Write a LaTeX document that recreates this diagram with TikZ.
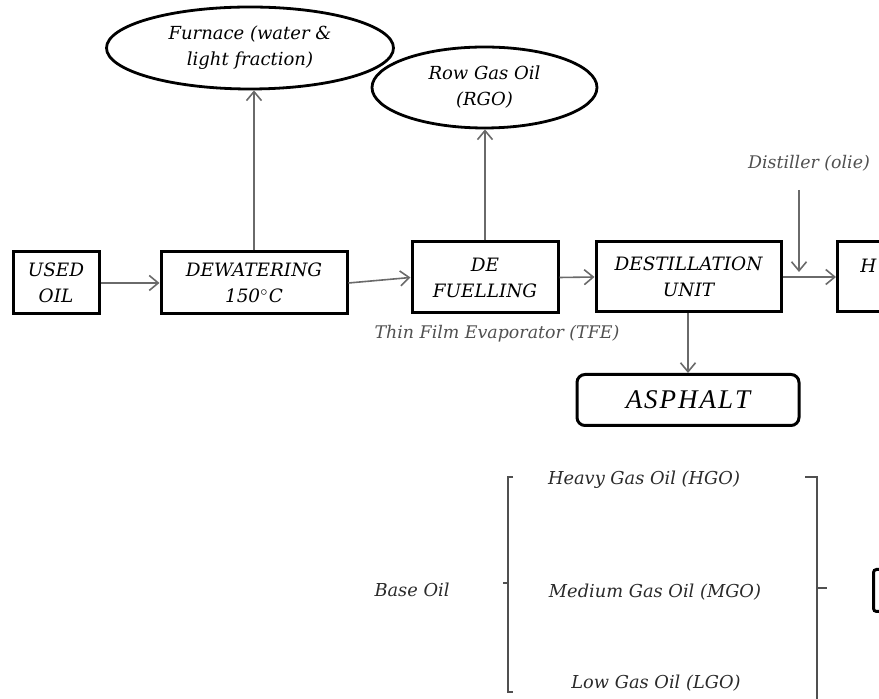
\documentclass[tikz,border=0pt]{standalone}
\usepackage{fontspec}
\setmainfont{DejaVu Serif}
\newfontfamily\timesit{Liberation Serif}
\usetikzlibrary{arrows.meta,shapes.geometric}
\definecolor{arrgray}{HTML}{6A6A6A}
\definecolor{txtgray}{HTML}{505050}
\definecolor{darktxt}{HTML}{2A2A2A}
\tikzset{
  procbox/.style={draw=black, line width=1.5pt, rectangle, align=center, inner sep=0pt,
    font=\fontsize{9.2}{13}\selectfont\itshape},
  ovalbox/.style={draw=black, line width=1.4pt, ellipse, align=center, inner sep=0pt,
    font=\fontsize{9}{13}\selectfont\itshape},
  arr/.style={draw=arrgray, line width=0.8pt, -{Straight Barb[length=4.5pt,width=7.5pt]}},
  graytxt/.style={text=txtgray, font=\fontsize{8.7}{11}\selectfont\itshape, inner sep=0pt},
  oiltxt/.style={text=darktxt, font=\fontsize{8.9}{11}\selectfont\itshape, inner sep=0pt},
  brk/.style={draw=txtgray, line width=0.6pt}
}
\begin{document}
\begin{tikzpicture}[x=0.5pt,y=-0.5pt]
\useasboundingbox (0,0) rectangle (879,699);
\clip (0,0) rectangle (879,699);
% process boxes
\node[procbox, minimum width=43pt, minimum height=31pt] (used) at (56,283) {USED\\OIL};
\node[procbox, minimum width=93pt, minimum height=31pt] (dew) at (254,283) {DEWATERING\\150$^\circ$C};
\node[procbox, minimum width=73pt, minimum height=35.5pt] (defuel) at (485,277.5) {DE\\FUELLING};
\node[procbox, minimum width=92.5pt, minimum height=35pt] (dest) at (688.5,277) {DESTILLATION\\UNIT};
\node[procbox, minimum width=92.5pt, minimum height=35pt, anchor=west] (hbox) at (836,277) {};
\node[anchor=west, inner sep=0pt, font=\fontsize{9.2}{13}\selectfont\itshape] (htxt) at (860,266) {H};
\node[procbox, rounded corners=4pt, minimum width=111pt, minimum height=25.5pt,
  font=\timesit\fontsize{13.5}{15}\selectfont\itshape] (asph) at (688,400) {A\kern1pt S\kern1pt P\kern1pt H\kern1pt A\kern1pt L\kern1pt T};
% ellipses
\node[ovalbox, minimum width=143.5pt, minimum height=41pt] (furn) at (250,48) {Furnace (water \&\\light fraction)};
\node[ovalbox, minimum width=112.5pt, minimum height=40.5pt] (rgo) at (484.5,87.5) {Row Gas Oil\\(RGO)};
% side labels
\node[graytxt] (distl) at (809,163) {Distiller (olie)};
\node[graytxt] (tfe) at (497,334) {Thin Film Evaporator (TFE)};
\coordinate (distTop) at (799,190);
\coordinate (distEnd) at (799,272);
% connectors
\draw[arr] (used) -- (dew);
\draw[arr] (dew.east) -- (defuel.west);
\draw[arr] (defuel.east) -- (dest.west);
\draw[arr] (dest.east) -- (hbox.west);
\draw[arr] (dew.north) -- (furn.south -| dew.north);
\draw[arr] (defuel.north) -- (rgo.south -| defuel.north);
\draw[arr] (distTop) -- (distEnd);
\draw[arr] (dest.south -| asph.north) -- (asph.north);
% base oil section
\node[oiltxt] (base) at (412,590) {Base Oil};
\node[oiltxt] (hgo) at (644,480) {Heavy Gas Oil (HGO)};
\node[oiltxt] (mgo) at (655,592) {Medium Gas Oil (MGO)};
\node[oiltxt] (lgo) at (656,683) {Low Gas Oil (LGO)};
\coordinate (lbT) at (513,477);
\coordinate (lbB) at (513,692);
\coordinate (lbM) at (503,583);
\draw[brk] (lbT) -- (508,477) -- (508,692) -- (lbB);
\draw[brk] (508,583) -- (lbM);
\coordinate (rbT) at (805,477);
\coordinate (rbM) at (827,588);
\draw[brk] (rbT) -- (817,477) -- (817,710);
\draw[brk] (817,588) -- (rbM);
\node[draw=black, line width=1.5pt, rounded corners=1.5pt, anchor=north west, minimum width=40pt, minimum height=21pt, inner sep=0pt] (rbox) at (872,568) {};
\end{tikzpicture}
\end{document}
